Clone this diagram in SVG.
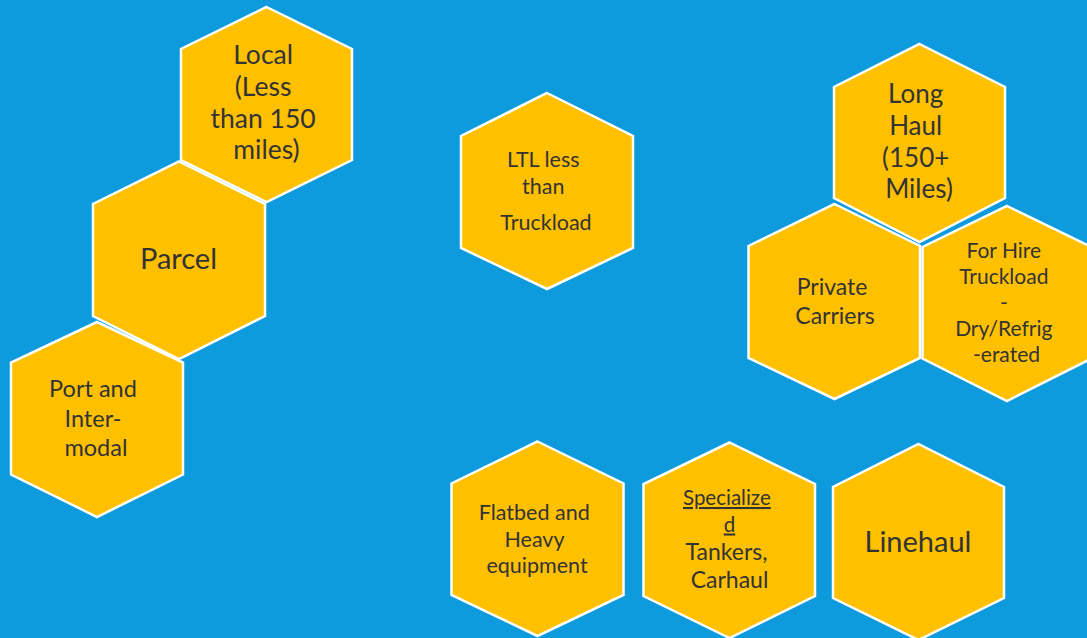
<svg xmlns="http://www.w3.org/2000/svg" width="1087" height="638" viewBox="0 0 1087 638">
  <style>
    .hex { fill: #FFC000; stroke: #FFFFFF; stroke-width: 2.5; stroke-linejoin: miter; }
    .lbl { font-family: Lato, "Open Sans", sans-serif; fill: #333333; text-anchor: middle; }
    .u { text-decoration: underline; }
  </style>
  <rect x="0" y="0" width="1087" height="638" fill="#0E9BDD"/>

  <g id="local">
    <polygon class="hex" points="266.5,7 352,49 352,160 266.5,202 181,160 181,49"/>
    <text class="lbl" font-size="26.5" x="266.5">
      <tspan x="266.5" y="64">Local</tspan>
      <tspan x="266.5" y="96">(Less</tspan>
      <tspan x="266.5" y="128">than 150</tspan>
      <tspan x="266.5" y="159">miles)</tspan>
    </text>
  </g>

  <g id="parcel">
    <polygon class="hex" points="179,161.5 265,204 265,316 179,359 93,316 93,204"/>
    <text class="lbl" font-size="29" x="178.5" y="269">Parcel</text>
  </g>

  <g id="port">
    <polygon class="hex" points="97,322 183,362.5 183,474.5 97,517 11,474.5 11,362.5"/>
    <text class="lbl" font-size="23.5">
      <tspan x="96" y="397">Port and</tspan>
      <tspan x="96" y="426.5">Inter-</tspan>
      <tspan x="96" y="456">modal</tspan>
    </text>
  </g>

  <g id="ltl">
    <polygon class="hex" points="547,93 633,136 633,248 547,289 461,248 461,136"/>
    <text class="lbl" font-size="21.5">
      <tspan x="546" y="166.5">LTL less</tspan>
      <tspan x="546" y="194">than</tspan>
      <tspan x="546" y="230">Truckload</tspan>
    </text>
  </g>

  <g id="long-haul">
    <polygon class="hex" points="919.5,44 1005,87 1005,198 919.5,242 834,198 834,87"/>
    <text class="lbl" font-size="26">
      <tspan x="919" y="103">Long</tspan>
      <tspan x="919" y="135">Haul</tspan>
      <tspan x="919" y="166.5">(150+</tspan>
      <tspan x="919" y="198">Miles)</tspan>
    </text>
  </g>

  <g id="private-carriers">
    <polygon class="hex" points="834.5,204 920,246 920,358 834.5,399 748.5,358 748.5,246"/>
    <text class="lbl" font-size="23">
      <tspan x="835" y="295">Private</tspan>
      <tspan x="835" y="324">Carriers</tspan>
    </text>
  </g>

  <g id="for-hire">
    <polygon class="hex" points="1007,206 1091.5,247 1091.5,358.5 1007,401 922.5,358.5 922.5,247"/>
    <text class="lbl" font-size="21">
      <tspan x="1006.5" y="258">For Hire</tspan>
      <tspan x="1006.5" y="284">Truckload</tspan>
      <tspan x="1006.5" y="310">-</tspan>
      <tspan x="1006.5" y="336">Dry/Refrig</tspan>
      <tspan x="1006.5" y="362">-erated</tspan>
    </text>
  </g>

  <g id="flatbed">
    <polygon class="hex" points="537.5,441.5 623.5,483.5 623.5,595 537.5,636 451.5,595 451.5,483.5"/>
    <text class="lbl" font-size="21.5">
      <tspan x="537" y="520">Flatbed and</tspan>
      <tspan x="537" y="547">Heavy</tspan>
      <tspan x="537" y="572.5">equipment</tspan>
    </text>
  </g>

  <g id="specialized">
    <polygon class="hex" points="729.5,442.5 815,484 815,596 729.5,638 643.5,596 643.5,484"/>
    <text class="lbl" font-size="20.5">
      <tspan class="u" x="729.5" y="505">Specialize</tspan>
      <tspan class="u" x="729.5" y="531.5">d</tspan>
    </text>
    <text class="lbl" font-size="23">
      <tspan x="729.5" y="560">Tankers,</tspan>
      <tspan x="729.5" y="587.5">Carhaul</tspan>
    </text>
  </g>

  <g id="linehaul">
    <polygon class="hex" points="918.5,444 1004,487 1004,598 918.5,640 833,598 833,487"/>
    <text class="lbl" font-size="29" x="918" y="551.5">Linehaul</text>
  </g>
</svg>
